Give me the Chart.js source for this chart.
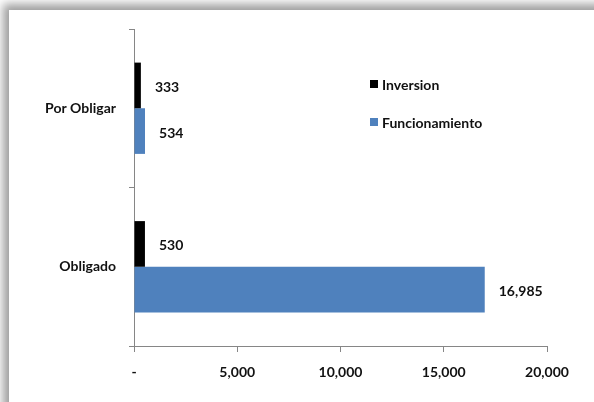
<!DOCTYPE html>
<html>
<head>
<meta charset="utf-8">
<script src="https://cdn.jsdelivr.net/npm/chart.js@4"></script>
<style>
  html, body { margin: 0; padding: 0; width: 594px; height: 402px; overflow: hidden; background: #ffffff; }
  .panel {
    position: absolute; left: 9px; top: 10px; width: 620px; height: 420px;
    background: #ffffff;
    box-shadow: -3px -3px 9px 3px rgba(0, 0, 0, 0.38);
  }
  #grafico { position: absolute; left: 0; top: 0; }
  .leyenda { position: absolute; left: 370px; top: 76px; font: bold 14px Lato, sans-serif; color: #111; }
  .leyenda-item { display: flex; align-items: center; height: 16px; margin-bottom: 22px; }
  .leyenda-item span.cuadro { width: 8px; height: 8px; margin-right: 4px; display: inline-block; }
</style>
</head>
<body>
<div class="panel"></div>
<canvas id="grafico" width="594" height="402"></canvas>
<div class="leyenda" id="leyenda"></div>
<script>
const categorias = ["Por Obligar", "Obligado"];
const inversion = [333, 530];
const funcionamiento = [534, 16985];
const ticksX = [0, 5000, 10000, 15000, 20000];

const FUENTE = { family: "Lato, sans-serif", size: 14, weight: "bold" };
const GRIS_EJE = "#868686";

function formatoNumero(v) {
  return v === 0 ? "-" : Number(v).toLocaleString("en-US");
}

// etiquetas de valor al final de cada barra
const etiquetasBarras = {
  id: "etiquetasBarras",
  afterDatasetsDraw(chart) {
    const ctx = chart.ctx;
    ctx.save();
    ctx.font = "bold 14px Lato, sans-serif";
    ctx.fillStyle = "#111";
    ctx.textAlign = "left";
    ctx.textBaseline = "middle";
    chart.data.datasets.forEach((ds, i) => {
      chart.getDatasetMeta(i).data.forEach((bar, j) => {
        ctx.fillText(formatoNumero(ds.data[j]), bar.x + 14, bar.y + 2);
      });
    });
    ctx.restore();
  }
};

const chart = new Chart(document.getElementById("grafico"), {
  type: "bar",
  data: {
    labels: categorias,
    datasets: [
      { label: "Inversion", data: inversion, backgroundColor: "#000000" },
      { label: "Funcionamiento", data: funcionamiento, backgroundColor: "#4F81BD" }
    ]
  },
  options: {
    indexAxis: "y",
    responsive: false,
    animation: false,
    devicePixelRatio: 1,
    categoryPercentage: 0.576,
    barPercentage: 1,
    layout: { padding: { left: 0, top: 29, right: 47, bottom: 0 } },
    plugins: { legend: { display: false }, tooltip: { enabled: false } },
    scales: {
      x: {
        min: ticksX[0],
        max: ticksX[ticksX.length - 1],
        afterBuildTicks: (s) => { s.ticks = ticksX.map((v) => ({ value: v })); },
        afterFit: (s) => { s.height = 56; },
        ticks: { callback: (v) => formatoNumero(v), padding: 12, color: "#111", font: FUENTE, maxRotation: 0 },
        grid: { drawOnChartArea: false, tickLength: 6, color: GRIS_EJE },
        border: { color: GRIS_EJE }
      },
      y: {
        afterFit: (s) => { s.width = 134; },
        ticks: { padding: 13, color: "#111", font: FUENTE },
        grid: { offset: true, drawOnChartArea: false, tickLength: 5, color: GRIS_EJE },
        border: { color: GRIS_EJE }
      }
    }
  },
  plugins: [etiquetasBarras]
});

// leyenda html a partir de los datasets
const leyenda = document.getElementById("leyenda");
chart.data.datasets.forEach((ds) => {
  const item = document.createElement("div");
  item.className = "leyenda-item";
  item.innerHTML = `<span class="cuadro" style="background:${ds.backgroundColor}"></span>${ds.label}`;
  leyenda.appendChild(item);
});
</script>
</body>
</html>
